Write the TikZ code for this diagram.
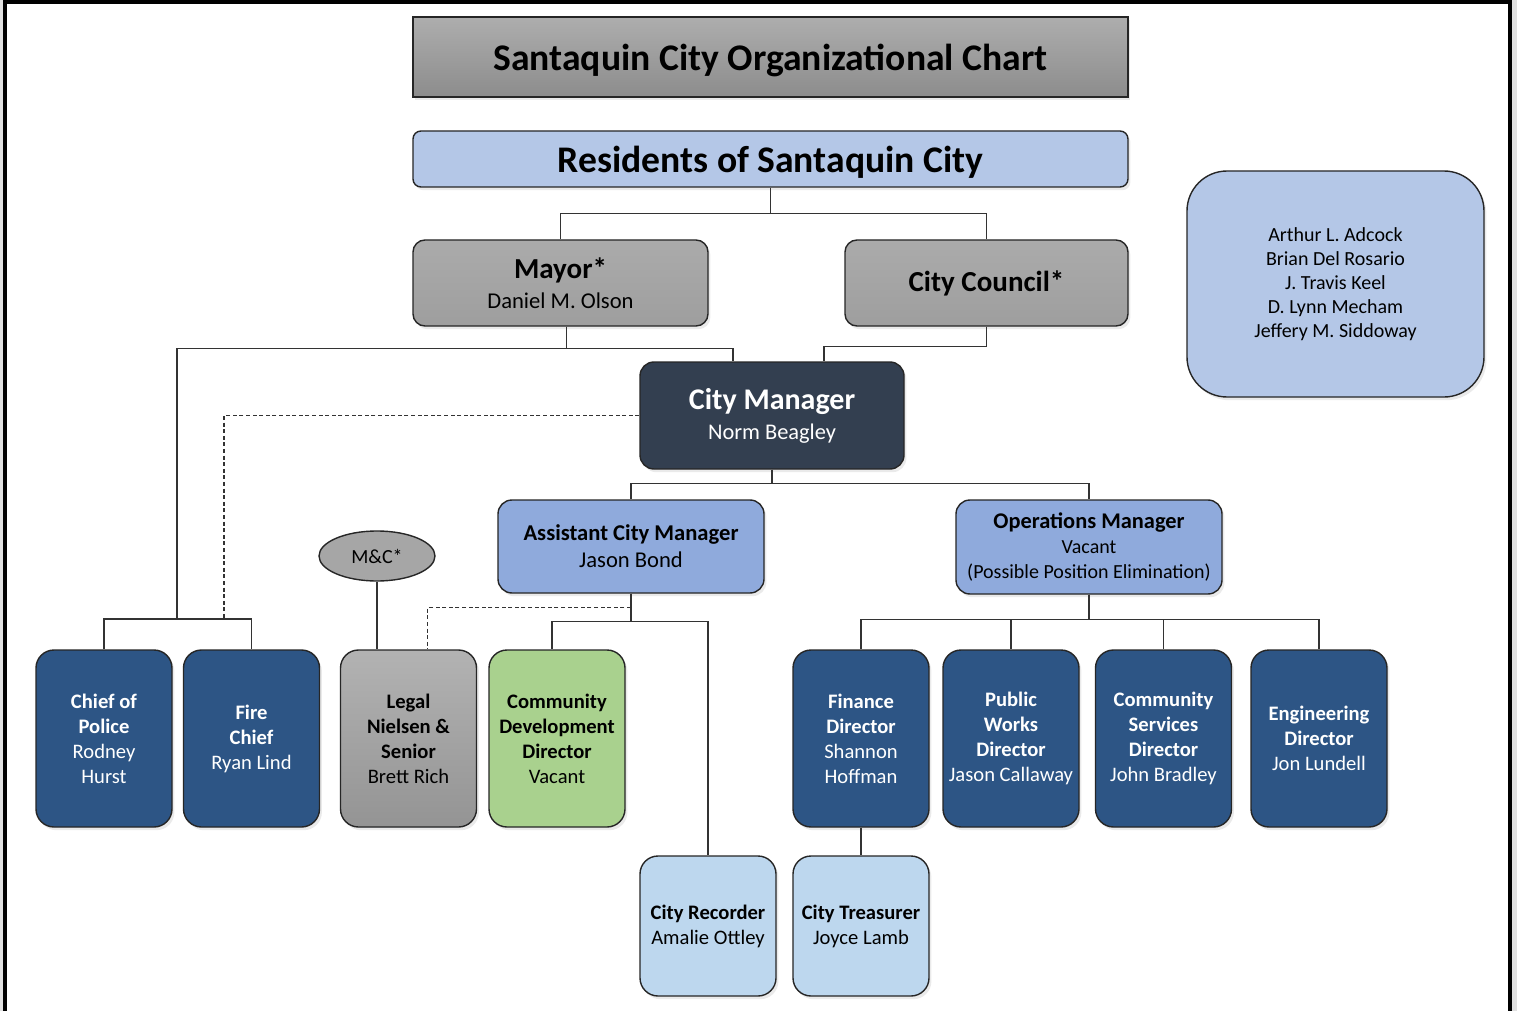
\documentclass[tikz,border=0pt]{standalone}
\usepackage{fontspec}
\setmainfont{Carlito}
\usetikzlibrary{shapes.geometric,shadows}

\definecolor{resblue}{HTML}{B4C7E7}
\definecolor{cmnavy}{HTML}{333F50}
\definecolor{mgrblue}{HTML}{8FAADC}
\definecolor{deptblue}{HTML}{2D5585}
\definecolor{cddgreen}{HTML}{A9D18E}
\definecolor{staffblue}{HTML}{BDD7EE}

\newcommand{\hd}[1]{\textbf{#1}}

\tikzset{
  box/.style={draw=black!85, line width=0.7pt, rounded corners=6pt, align=center, inner sep=0pt,
    drop shadow={shadow xshift=1.2pt, shadow yshift=-1.6pt, opacity=0.16}},
  greybox/.style={box, top color=black!33, bottom color=black!38},
  dept/.style={box, fill=deptblue, text=white, minimum width=68pt, minimum height=88.5pt,
    rounded corners=9pt, font=\fontsize{10.3}{12.5}\selectfont},
  staff/.style={dept, fill=staffblue, text=black, minimum height=70pt},
  link/.style={draw=black!80, line width=0.55pt},
  dotlink/.style={link, dash pattern=on 2pt off 1.3pt},
}

\begin{document}
\begin{tikzpicture}[x=0.5pt, y=-0.5pt]
\useasboundingbox (0,0) rectangle (1517,1011);
\fill[black!12] (0,0) rectangle (1517,1011);
\fill[white] (5,2) rectangle (1510,1011);
\draw[line width=2.2pt] (5,1016) -- (5,2) -- (1510,2) -- (1510,1016);

\node[box, rounded corners=0pt, top color=black!32, bottom color=black!45, minimum width=357.5pt, minimum height=40pt,
  text depth=0pt, font=\fontsize{18.8}{22}\selectfont\bfseries] (title) at (770.5,57) {Santaquin City Organizational Chart};
\node[box, rounded corners=4pt, fill=resblue, minimum width=357.5pt, minimum height=28pt,
  text depth=0pt, font=\fontsize{18.8}{22}\selectfont\bfseries] (res) at (770.5,159) {Residents of Santaquin City};

\node[greybox, minimum width=147.5pt, minimum height=43pt] (mayor) at (560.5,283)
  {{\fontsize{14.5}{16}\selectfont\bfseries Mayor*}\\[3pt]{\fontsize{11.3}{13}\selectfont Daniel M. Olson}};
\node[greybox, minimum width=141.5pt, minimum height=43pt, font=\fontsize{14.5}{16}\selectfont\bfseries] (council)
  at (986.5,283) {City Council*};
\node[box, rounded corners=20pt, fill=resblue, minimum width=148.5pt, minimum height=113pt,
  font=\fontsize{10}{12}\selectfont] (members) at (1335.5,284)
  {Arthur L. Adcock\\Brian Del Rosario\\J. Travis Keel\\D. Lynn Mecham\\Jeffery M. Siddoway};

\node[box, rounded corners=7pt, fill=cmnavy, text=white, minimum width=132pt, minimum height=53.5pt] (cm) at (772,415.5)
  {{\fontsize{15}{17}\selectfont\bfseries City Manager}\\[3pt]{\fontsize{11.2}{13}\selectfont Norm Beagley}};
\node[box, rounded corners=7pt, fill=mgrblue, minimum width=133pt, minimum height=46.5pt,
  font=\fontsize{11.3}{13.5}\selectfont] (acm) at (631,546.5) {\hd{Assistant City Manager}\\Jason Bond};
\node[box, rounded corners=7pt, fill=mgrblue, minimum width=133pt, minimum height=47pt,
  font=\fontsize{10}{12.5}\selectfont] (om) at (1089,547)
  {{\fontsize{11.2}{12.5}\selectfont\bfseries Operations Manager}\\Vacant\\(Possible Position Elimination)};
\node[ellipse, draw=black!85, line width=0.7pt, fill=black!35, minimum width=58pt, minimum height=25pt,
  inner sep=0pt, font=\fontsize{10}{12}\selectfont] (mc) at (377,556) {M\&C*};

\node[dept] (chief) at (104,738.5) {\hd{Chief of}\\\hd{Police}\\Rodney\\Hurst};
\node[dept] (fire) at (251.5,738.5) {\hd{Fire}\\\hd{Chief}\\Ryan Lind};
\node[dept, top color=black!30, bottom color=black!42, text=black] (legal) at (408.5,738.5)
  {\hd{Legal}\\\hd{Nielsen \&}\\\hd{Senior}\\Brett Rich};
\node[dept, fill=cddgreen, text=black] (cdd) at (557,738.5) {\hd{Community}\\\hd{Development}\\\hd{Director}\\Vacant};
\node[dept] (fin) at (861,738.5) {\hd{Finance}\\\hd{Director}\\Shannon\\Hoffman};
\node[dept] (pw) at (1011,738.5) {\hd{Public}\\\hd{Works}\\\hd{Director}\\Jason Callaway};
\node[dept] (cs) at (1163.5,738.5) {\hd{Community}\\\hd{Services}\\\hd{Director}\\John Bradley};
\node[dept] (eng) at (1319,738.5) {\hd{Engineering}\\\hd{Director}\\Jon Lundell};
\node[staff] (rec) at (708,926) {\hd{City Recorder}\\Amalie Ottley};
\node[staff] (tre) at (861,926) {\hd{City Treasurer}\\Joyce Lamb};

\coordinate (safety) at (177,619);
\coordinate (firedot) at (224,619);

\draw[link] (res.south) -- ++(0,26) -| (mayor.north);
\draw[link] (res.south) -- ++(0,26) -| (council.north);
\draw[link] ([xshift=3pt]mayor.south) -- ++(0,22) -| ([xshift=-19.5pt]cm.north);
\draw[link] ([xshift=3pt]mayor.south) -- ++(0,22) -| (safety);
\draw[link] (council.south) -- ++(0,20) -| ([xshift=26pt]cm.north);
\draw[link] (chief.north) |- (safety) -| (fire.north);
\draw[dotlink] (cm.west) -| (firedot);
\draw[link] (cm.south) -- ++(0,14) -| (acm.north);
\draw[link] (cm.south) -- ++(0,14) -| (om.north);
\foreach \d in {fin,pw,cs,eng}
  \draw[link] (om.south) -- ++(0,25) -| (\d.north);
\draw[link] (acm.south) -- ++(0,28) -| ([xshift=-2.5pt]cdd.north);
\draw[link] (acm.south) -- ++(0,28) -| (rec.north);
\draw[dotlink] ([yshift=-7pt]acm.south) -| ([xshift=9.5pt]legal.north);
\draw[link] (mc.south) -- (mc.south |- legal.north);
\draw[link] (fin.south) -- (tre.north);
\end{tikzpicture}
\end{document}
